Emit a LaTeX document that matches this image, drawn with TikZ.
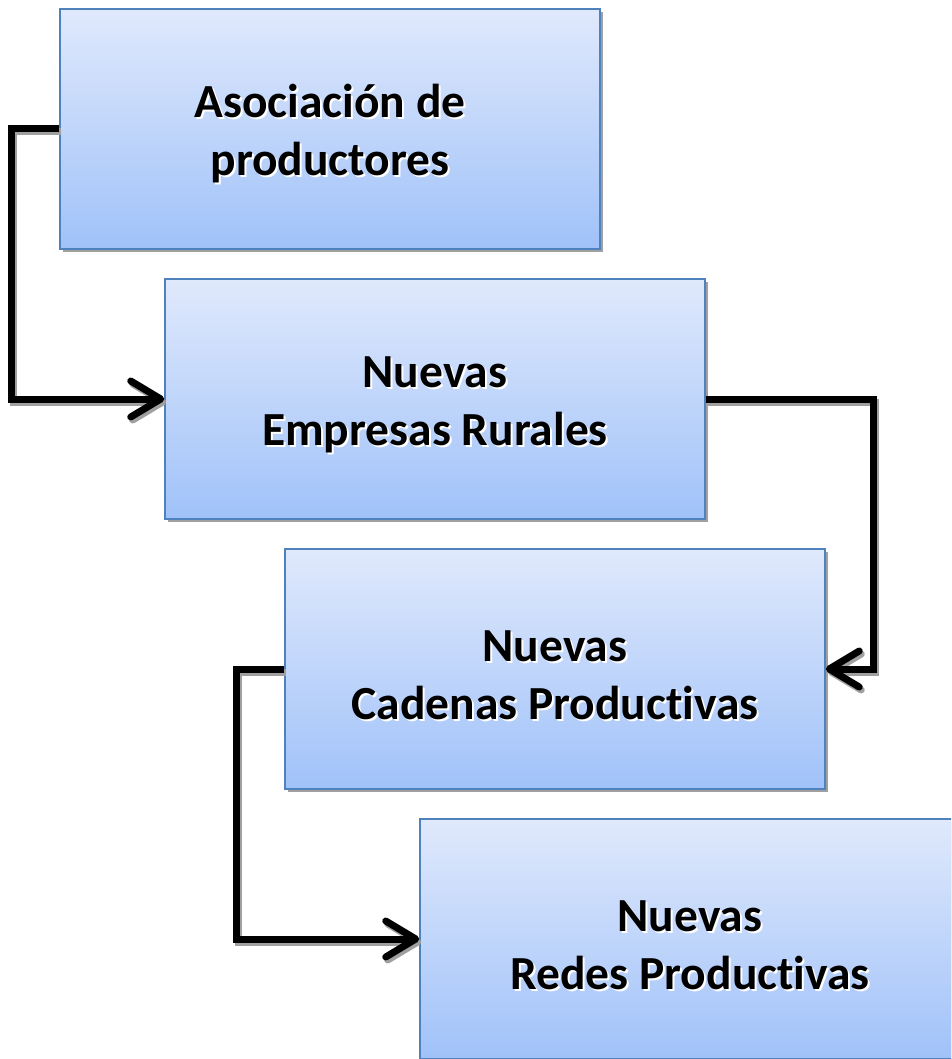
\documentclass[tikz,border=0pt]{standalone}
\usepackage{fontspec}
\setmainfont{Carlito}[Ligatures={NoCommon,NoRequired}]
\usetikzlibrary{arrows.meta,shadows}
\definecolor{boxtop}{RGB}{224,233,252}
\definecolor{boxbot}{RGB}{160,194,249}
\definecolor{boxline}{RGB}{79,129,189}
\definecolor{shade}{RGB}{160,160,160}
\newcommand\sht[1]{\rlap{\hspace{2pt}\raisebox{-2pt}{\color{white}#1}}#1}
\newcommand\topstrut{\rule{0pt}{45pt}}
\tikzset{
  stagebox/.style={rectangle, minimum width=540pt, minimum height=240pt,
    draw=boxline, line width=1.5pt, top color=boxtop, bottom color=boxbot,
    drop shadow={shadow xshift=3pt, shadow yshift=-3pt, fill=shade, opacity=1},
    align=center, font=\fontsize{47.5}{58}\selectfont\bfseries, text=black, inner sep=0pt},
  linkshadow/.style={draw=shade, line width=7pt, line join=miter,
    -{Straight Barb[length=30pt,width=36pt,round]}},
  link/.style={draw=black, line width=7pt, line join=miter,
    -{Straight Barb[length=30pt,width=36pt,round]}}
}
\begin{document}
\begin{tikzpicture}[x=1pt,y=-1pt]
\useasboundingbox (0,0) rectangle (951,1059);
\clip (0,0) rectangle (951,1059);
\fill[white] (0,0) rectangle (951,1059);
\node[stagebox] (a1) at (330,129) {\topstrut\sht{Asociación de}\\\sht{productores}};
\node[stagebox] (a2) at (435,399) {\topstrut\sht{Nuevas}\\\sht{Empresas Rurales}};
\node[stagebox] (a3) at (555,669) {\topstrut\sht{Nuevas}\\\sht{Cadenas Productivas}};
\node[stagebox] (a4) at (690,939) {\topstrut\sht{Nuevas}\\\sht{Redes Productivas}};
\begin{scope}[transform canvas={xshift=2pt,yshift=-3pt}]
\draw[linkshadow] (a1.west) -- ++(-48,0) |- (a2.west);
\draw[linkshadow] (a2.east) -- ++(168,0) |- (a3.east);
\draw[linkshadow] (a3.west) -- ++(-48,0) |- (a4.west);
\end{scope}
\draw[link] (a1.west) -- ++(-48,0) |- (a2.west);
\draw[link] (a2.east) -- ++(168,0) |- (a3.east);
\draw[link] (a3.west) -- ++(-48,0) |- (a4.west);
\end{tikzpicture}
\end{document}
